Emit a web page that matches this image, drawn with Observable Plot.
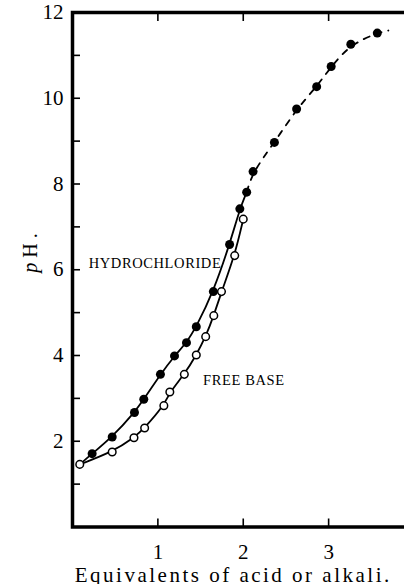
<!DOCTYPE html>
<html>
<head>
<meta charset="utf-8">
<script src="https://cdn.jsdelivr.net/npm/d3@7"></script>
<script src="https://cdn.jsdelivr.net/npm/@observablehq/plot@0.6"></script>
<style>
  html, body { margin: 0; padding: 0; background: white; }
  #chart svg { display: block; overflow: hidden; }
  #chart svg text { font-family: "Liberation Serif", "Times New Roman", serif !important; }
</style>
</head>
<body>
<div id="chart"></div>
<script>
// Hydrochloride titrated with alkali (filled circles, solid curve)
const hydroX  = [0.23, 0.465, 0.726, 0.835, 1.03, 1.195, 1.335, 1.45, 1.65, 1.84, 1.96, 2.04];
const hydroPH = [1.71, 2.10, 2.67, 2.98, 3.56, 3.99, 4.30, 4.67, 5.49, 6.59, 7.42, 7.81];
// Free base titrated with acid (open circles, solid curve)
const baseX  = [0.085, 0.465, 0.72, 0.845, 1.07, 1.14, 1.31, 1.45, 1.56, 1.655, 1.745, 1.90, 2.0];
const basePH = [1.46, 1.75, 2.08, 2.31, 2.83, 3.15, 3.56, 4.01, 4.44, 4.93, 5.49, 6.33, 7.18];
// Further alkali (filled circles, dashed curve)
const alkaliX  = [2.115, 2.365, 2.625, 2.86, 3.03, 3.26, 3.57];
const alkaliPH = [8.29, 8.97, 9.75, 10.27, 10.74, 11.26, 11.52];
const dashEnd = {x: 3.70, y: 11.58};

const xTicks = [1, 2, 3];
const yLabelTicks = [2, 4, 6, 8, 10, 12];
const yAllTicks = [1, 2, 3, 4, 5, 6, 7, 8, 9, 10, 11];

const curveLabels = ["HYDROCHLORIDE", "FREE BASE"];
const curveLabelX = [0.19, 1.53];
const curveLabelY = [6.14, 3.41];

const xTitle = "Equivalents of acid or alkali.";
const yTitle = "pH.";

const hydroPts = hydroX.map((x, i) => ({x, y: hydroPH[i]}));
const basePts = baseX.map((x, i) => ({x, y: basePH[i]}));
const alkaliPts = alkaliX.map((x, i) => ({x, y: alkaliPH[i]}));
const hydroLine = [basePts[0], ...hydroPts];
const dashLine = [hydroPts[hydroPts.length - 1], ...alkaliPts, dashEnd];
const labels = curveLabels.map((t, i) => ({t, x: curveLabelX[i], y: curveLabelY[i]}));

const chart = Plot.plot({
  width: 404,
  height: 584,
  marginLeft: 72,
  marginTop: 12,
  marginBottom: 57.5,
  marginRight: -9.5,
  x: {domain: [0, 4]},
  y: {domain: [0, 12]},
  style: {fontFamily: "'Liberation Serif', serif", background: "white", color: "black"},
  marks: [
    Plot.axisY({ticks: yAllTicks, tickSize: -8, tickFormat: () => "", label: null, strokeWidth: 1.6}),
    Plot.axisY({ticks: yLabelTicks, tickSize: 0, tickPadding: 9, fontSize: 21, label: null, tickFormat: d => String(d)}),
    Plot.axisY({anchor: "right", ticks: yAllTicks, tickSize: -10, tickFormat: () => "", label: null, strokeWidth: 1.6}),
    Plot.axisX({ticks: xTicks, tickSize: -8, tickFormat: () => "", label: null, strokeWidth: 1.6}),
    Plot.axisX({ticks: xTicks, tickSize: 0, tickPadding: 17, fontSize: 21, label: null, tickFormat: d => String(d)}),
    Plot.axisX({anchor: "top", ticks: xTicks, tickSize: -8, tickFormat: () => "", label: null, strokeWidth: 1.6}),
    Plot.frame({strokeWidth: 3.5}),
    Plot.line(hydroLine, {x: "x", y: "y", curve: "basis", stroke: "black", strokeWidth: 1.8}),
    Plot.line(basePts, {x: "x", y: "y", curve: "basis", stroke: "black", strokeWidth: 1.8}),
    Plot.line(dashLine, {x: "x", y: "y", curve: "basis", stroke: "black", strokeWidth: 1.8, strokeDasharray: "6,7"}),
    Plot.dot(basePts, {x: "x", y: "y", r: 3.8, fill: "white", stroke: "black", strokeWidth: 1.5}),
    Plot.dot(hydroPts, {x: "x", y: "y", r: 4.5, fill: "black", stroke: "none"}),
    Plot.dot(alkaliPts, {x: "x", y: "y", r: 4.5, fill: "black", stroke: "none"}),
    Plot.text(labels, {x: "x", y: "y", text: "t", textAnchor: "start", fontSize: 14.5, fill: "black"}),
    Plot.text([xTitle], {frameAnchor: "bottom", dx: -10, dy: 48, fontSize: 21, fill: "black", lineAnchor: "middle"}),
    Plot.text([yTitle], {frameAnchor: "left", dx: -42, dy: 3, rotate: -90, fontSize: 20, fill: "black", lineAnchor: "middle"})
  ]
});
document.getElementById("chart").appendChild(chart);

// typographic touches: italic p in "pH.", letter spacing
chart.querySelectorAll("text").forEach(t => {
  if (t.textContent === yTitle) {
    t.textContent = "";
    const ns = "http://www.w3.org/2000/svg";
    const p = document.createElementNS(ns, "tspan");
    p.setAttribute("font-style", "italic");
    p.textContent = "p";
    const h = document.createElementNS(ns, "tspan");
    h.textContent = "H.";
    t.appendChild(p); t.appendChild(h);
    t.style.letterSpacing = "5px";
  } else if (t.textContent === xTitle) {
    t.style.letterSpacing = "2.5px";
  } else if (curveLabels.includes(t.textContent)) {
    t.style.letterSpacing = "0.6px";
  }
});
</script>
</body>
</html>
